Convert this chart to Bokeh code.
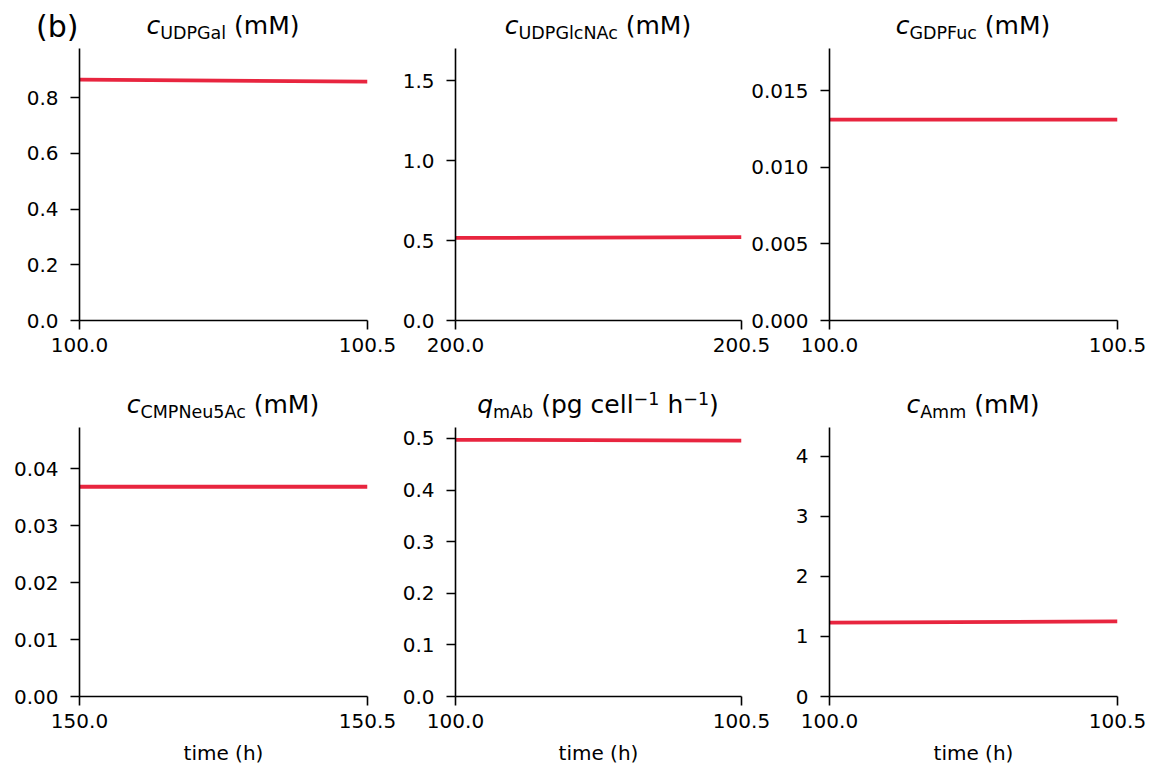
from bokeh.plotting import figure
from bokeh.models import FixedTicker, PrintfTickFormatter, Range1d, Div
from bokeh.layouts import row, column
from bokeh.embed import file_html
from bokeh.resources import INLINE

# ---------------- data ----------------
t_udpgal = [100.0, 100.5]
c_udpgal = [0.864, 0.857]
t_udpglcnac = [200.0, 200.5]
c_udpglcnac = [0.516, 0.521]
t_gdpfuc = [100.0, 100.5]
c_gdpfuc = [0.0131, 0.0131]
t_cmpneu5ac = [150.0, 150.5]
c_cmpneu5ac = [0.0368, 0.0368]
t_qmab = [100.0, 100.5]
q_mab = [0.4975, 0.496]
t_amm = [100.0, 100.5]
c_amm = [1.232, 1.25]

yticks_udpgal = [0.0, 0.2, 0.4, 0.6, 0.8]
yticks_udpglcnac = [0.0, 0.5, 1.0, 1.5]
yticks_gdpfuc = [0.0, 0.005, 0.010, 0.015]
yticks_cmpneu5ac = [0.00, 0.01, 0.02, 0.03, 0.04]
yticks_qmab = [0.0, 0.1, 0.2, 0.3, 0.4, 0.5]
yticks_amm = [0, 1, 2, 3, 4]

ytop_udpgal = 0.976
ytop_udpglcnac = 1.7
ytop_gdpfuc = 0.01774
ytop_cmpneu5ac = 0.0472
ytop_qmab = 0.5213
ytop_amm = 4.48

panel_label = "(b)"
xlabel = "time (h)"
# (variable, subscript, unit) for each panel title
titles_row1 = [("c", "UDPGal", "(mM)"), ("c", "UDPGlcNAc", "(mM)"), ("c", "GDPFuc", "(mM)")]
titles_row2 = [("c", "CMPNeu5Ac", "(mM)"), ("q", "mAb", None), ("c", "Amm", "(mM)")]

LINE_COLOR = "#E8253F"
FONT = "DejaVu Sans"
SUB = "font-size:17.5px;position:relative;top:5px"
SUP = "font-size:17.5px;position:relative;top:-8px"


def title_span(cx, top, var, sub, unit):
    if unit is None:
        unit = (f"(pg cell<span style='{SUP}'>&minus;1</span> "
                f"h<span style='{SUP}'>&minus;1</span>)")
    return (f"<span style=\"position:absolute;left:{cx}px;top:{top}px;"
            f"transform:translateX(-50%);font-size:25px;line-height:25px;white-space:nowrap\">"
            f"<i>{var}</i><span style='{SUB}'>{sub}</span> {unit}</span>")


def title_div(height, top, titles, centers, extra=""):
    spans = "".join(title_span(cx, top, *t) for cx, t in zip(centers, titles))
    html = (f"<div style=\"position:relative;width:1153px;height:{height}px;"
            f"font-family:'{FONT}';color:black;\">{extra}{spans}</div>")
    return Div(text=html, width=1153, height=height, margin=0)


def make_fig(x, y, xr, yr, yticks, yfmt, L, R, T, B, FW, FH, ml, xlab=None):
    p = figure(width=L + FW + R, height=T + FH + B,
               x_range=Range1d(*xr), y_range=Range1d(*yr),
               output_backend="svg", toolbar_location=None,
               min_border_left=L, min_border_right=R,
               min_border_top=T, min_border_bottom=B,
               margin=(0, 0, 0, ml))
    p.background_fill_alpha = 0
    p.border_fill_alpha = 0
    p.outline_line_color = None
    p.xgrid.visible = False
    p.ygrid.visible = False
    p.line(x, y, line_color=LINE_COLOR, line_width=3.8)
    p.xaxis.ticker = FixedTicker(ticks=[xr[0], xr[1]])
    p.xaxis.formatter = PrintfTickFormatter(format="%.1f")
    p.yaxis.ticker = FixedTicker(ticks=yticks)
    p.yaxis.formatter = PrintfTickFormatter(format=yfmt)
    for ax in (p.xaxis[0], p.yaxis[0]):
        ax.axis_line_color = "black"
        ax.axis_line_width = 1.6
        ax.major_tick_line_color = "black"
        ax.major_tick_line_width = 1.6
        ax.major_tick_in = 0
        ax.major_tick_out = 9
        ax.minor_tick_line_color = None
        ax.major_label_text_font = FONT
        ax.major_label_text_font_size = "20px"
        ax.major_label_text_color = "black"
    p.yaxis.major_label_standoff = 12
    p.xaxis.major_label_standoff = 8
    if xlab:
        p.xaxis.axis_label = xlab
        p.xaxis.axis_label_text_font = FONT
        p.xaxis.axis_label_text_font_size = "20px"
        p.xaxis.axis_label_text_font_style = "normal"
        p.xaxis.axis_label_text_color = "black"
        p.xaxis.axis_label_standoff = 10
    return p


FH1, FH2 = 272, 269
centers = [223, 598, 973]

b_span = (f"<span style=\"position:absolute;left:36px;top:12px;font-size:30px;"
          f"line-height:30px;white-space:nowrap\">{panel_label}</span>")
div1 = title_div(44, 12.5, titles_row1, centers, b_span)
div2 = title_div(43, 11.5, titles_row2, centers)

p1 = make_fig(t_udpgal, c_udpgal, (t_udpgal[0], t_udpgal[-1]), (0, ytop_udpgal),
              yticks_udpgal, "%.1f", 79, 40, 4, 60, 288, FH1, 0)
p2 = make_fig(t_udpglcnac, c_udpglcnac, (t_udpglcnac[0], t_udpglcnac[-1]), (0, ytop_udpglcnac),
              yticks_udpglcnac, "%.1f", 75, 40, 4, 60, 286, FH1, -27)
p3 = make_fig(t_gdpfuc, c_gdpfuc, (t_gdpfuc[0], t_gdpfuc[-1]), (0, ytop_gdpfuc),
              yticks_gdpfuc, "%.3f", 84, 36, 4, 60, 288, FH1, -36)
p4 = make_fig(t_cmpneu5ac, c_cmpneu5ac, (t_cmpneu5ac[0], t_cmpneu5ac[-1]), (0, ytop_cmpneu5ac),
              yticks_cmpneu5ac, "%.2f", 79, 40, 4, 73, 288, FH2, 0, xlabel)
p5 = make_fig(t_qmab, q_mab, (t_qmab[0], t_qmab[-1]), (0, ytop_qmab),
              yticks_qmab, "%.1f", 75, 40, 4, 73, 286, FH2, -27, xlabel)
p6 = make_fig(t_amm, c_amm, (t_amm[0], t_amm[-1]), (0, ytop_amm),
              yticks_amm, "%d", 84, 36, 4, 73, 288, FH2, -36, xlabel)

layout = column(div1, row(p1, p2, p3, spacing=0), div2, row(p4, p5, p6, spacing=0), spacing=0)

open("out.html", "w").write(file_html(layout, INLINE))
